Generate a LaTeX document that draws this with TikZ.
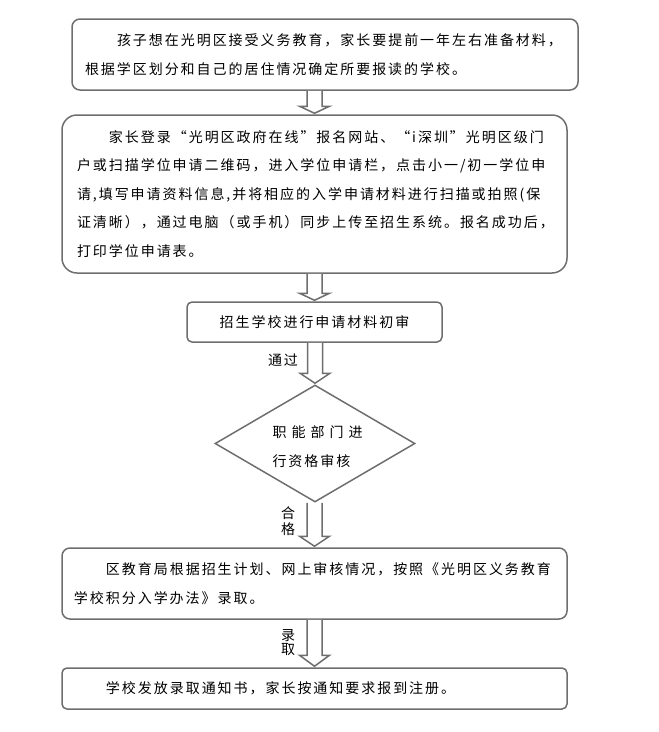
\documentclass[tikz,border=0pt]{standalone}
\usepackage{fontspec}
\setmainfont{Noto Sans CJK SC}[LetterSpace=14]
\usetikzlibrary{shapes.geometric, calc}
\definecolor{boxgray}{HTML}{6E6E6E}
% hollow block arrow from the bottom of #1 to the top of #2, head length #3
\newcommand{\blockarrow}[3]{%
  \draw[arrowline] let \p1=(#1.south), \p2=(#2.north) in
    (\x2-7.5pt,\y1) -- (\x2-7.5pt,\y2+#3) -- (\x2-15pt,\y2+#3) -- (\x2,\y2+1pt)
    -- (\x2+15pt,\y2+#3) -- (\x2+7.5pt,\y2+#3) -- (\x2+7.5pt,\y1);}
\newcommand{\indentchars}{\hspace*{32pt}}

\begin{document}
\begin{tikzpicture}[x=1pt, y=-1pt]
    \tikzstyle{every node}=[font=\fontsize{14pt}{28.5pt}\selectfont, text=black];
    \tikzstyle{stepbox}=[draw=boxgray, line width=1.5pt, inner xsep=13pt, inner ysep=0pt, align=left];
    \tikzstyle{arrowline}=[draw=boxgray, line width=1.5pt, fill=white, line join=miter];
    \useasboundingbox (0,0) rectangle (659,732);

    % boxes
    \node[stepbox, rounded corners=8pt, text width=480pt, minimum height=71pt] (choose) at (325,54.5)
      {\indentchars 孩子想在光明区接受义务教育，家长要提前一年左右准备材料，\\
       根据学区划分和自己的居住情况确定所要报读的学校。};
    \node[stepbox, rounded corners=15pt, inner xsep=15pt, text width=475pt, minimum height=158pt] (apply) at (314.5,194)
      {\indentchars 家长登录“光明区政府在线”报名网站、“i深圳”光明区级门\\
       户或扫描学位申请二维码，进入学位申请栏，点击小一/初一学位申\\
       请,填写申请资料信息,并将相应的入学申请材料进行扫描或拍照(保\\
       证清晰），通过电脑（或手机）同步上传至招生系统。报名成功后，\\
       打印学位申请表。};
    \node[stepbox, rounded corners=5pt, align=center, text width=229pt, minimum height=40pt] (firstcheck) at (314.5,322)
      {招生学校进行申请材料初审};
    \node[draw=boxgray, line width=1.5pt, shape=diamond, inner sep=0pt, minimum width=200pt, minimum height=117pt] (qualify) at (315,443.5) {};
    \node[align=left, anchor=west] (qualifytext) at (269,446.5)
      {职\kern5pt 能\kern5pt 部\kern5pt 门\kern5pt 进\\ 行资格审核};
    \node[stepbox, rounded corners=8pt, inner xsep=12pt, text width=481pt, minimum height=71pt] (admit) at (314.5,583.5)
      {\indentchars 区教育局根据招生计划、网上审核情况，按照《光明区义务教育\\
       学校积分入学办法》录取。};
    \node[stepbox, rounded corners=5pt, inner xsep=12pt, text width=481pt, minimum height=41pt] (notice) at (314.5,688.5)
      {\indentchars 学校发放录取通知书，家长按通知要求报到注册。};

    % arrows
    \blockarrow{choose}{apply}{8pt}
    \blockarrow{apply}{firstcheck}{8pt}
    \blockarrow{firstcheck}{qualify}{11pt}
    \blockarrow{qualify}{admit}{11pt}
    \blockarrow{admit}{notice}{12pt}

    % arrow labels
    \node (passlabel) at (283,360) {通过};
    \node[align=center, font=\fontsize{14pt}{16pt}\selectfont] (oklabel) at (288,521) {合\\格};
    \node[align=center, font=\fontsize{14pt}{14pt}\selectfont] (admitlabel) at (288,643) {录\\取};
\end{tikzpicture}
\end{document}
